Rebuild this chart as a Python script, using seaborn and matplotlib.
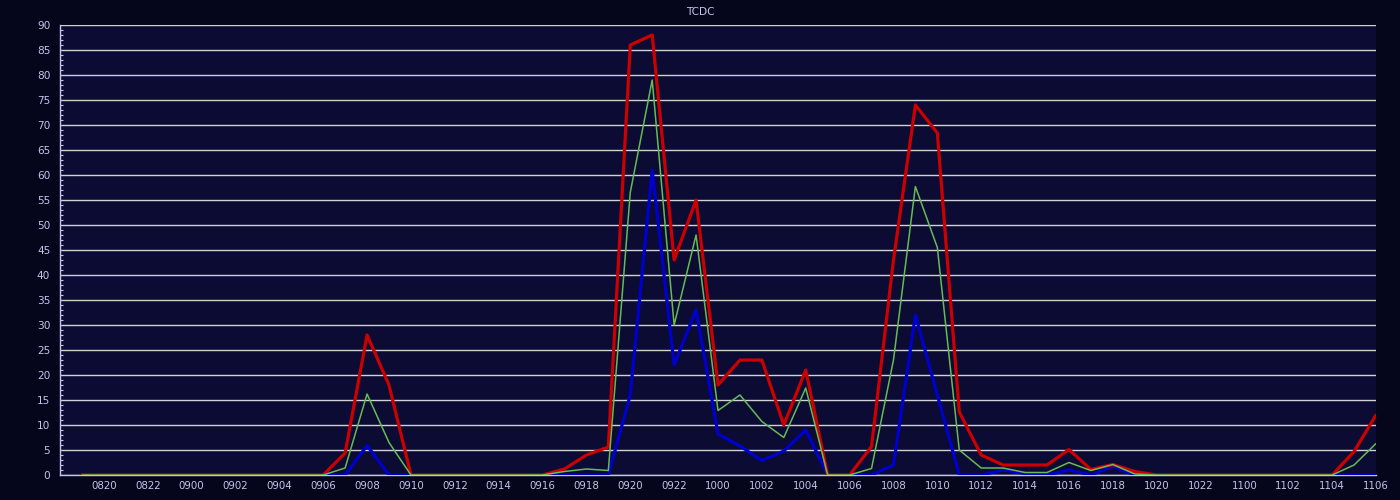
import numpy as np
import seaborn as sns
import matplotlib
matplotlib.use("Agg")
import matplotlib.pyplot as plt
from matplotlib.ticker import MultipleLocator

# hourly steps, DDHH style labels as on the chart
hours = ['0819', '0820', '0821', '0822', '0823',
         '0900', '0901', '0902', '0903', '0904', '0905', '0906', '0907', '0908', '0909', '0910', '0911',
         '0912', '0913', '0914', '0915', '0916', '0917', '0918', '0919', '0920', '0921', '0922', '0923',
         '1000', '1001', '1002', '1003', '1004', '1005', '1006', '1007', '1008', '1009', '1010', '1011',
         '1012', '1013', '1014', '1015', '1016', '1017', '1018', '1019', '1020', '1021', '1022', '1023',
         '1100', '1101', '1102', '1103', '1104', '1105', '1106']

red_vals = [0, 0, 0, 0, 0,
            0, 0, 0, 0, 0, 0, 0, 4.4, 28, 18, 0, 0,
            0, 0, 0, 0, 0, 1.2, 4, 5.6, 86, 88, 43, 55,
            18, 23, 23, 10, 21, 0, 0, 5.7, 43, 74, 68.4, 12.6,
            4, 2, 2, 2, 5.1, 1.1, 2.1, 0.7, 0, 0, 0, 0,
            0, 0, 0, 0, 0, 4.7, 12]

green_vals = [0, 0, 0, 0, 0,
              0, 0, 0, 0, 0, 0, 0, 1.4, 16.2, 6.5, 0, 0,
              0, 0, 0, 0, 0, 0.7, 1.2, 0.9, 56.5, 79, 30, 48,
              12.9, 16, 10.7, 7.5, 17.4, 0, 0, 1.3, 23, 57.7, 45.5, 5,
              1.4, 1.4, 0.5, 0.5, 2.5, 0.9, 2.1, 0.2, 0, 0, 0, 0,
              0, 0, 0, 0, 0, 2, 6.3]

blue_vals = [0, 0, 0, 0, 0,
             0, 0, 0, 0, 0, 0, 0, 0, 5.9, 0, 0, 0,
             0, 0, 0, 0, 0, 0, 0, 0, 16, 61, 22, 33,
             8.2, 5.8, 2.9, 4.8, 9, 0, 0, 0, 2, 32, 16, 0,
             0, 1, 0.3, 0, 1, 0, 1.7, 0, 0, 0, 0, 0,
             0, 0, 0, 0, 0, 0, 0]

outer_bg = '#05061c'
plot_bg = '#0b0b33'
txt_col = '#c4c4ea'
grid_col = '#d2d2d2'

sns.set_style("dark")
plt.rcParams['font.family'] = ['DejaVu Sans']

fig = plt.figure(figsize=(14, 5), dpi=100, facecolor=outer_bg)
ax = fig.add_axes([60 / 1400, 25 / 500, (1376 - 60) / 1400, 450 / 500])
ax.set_facecolor(plot_bg)

pos = np.arange(len(hours))
sns.lineplot(x=pos, y=blue_vals, color='#0000cc', linewidth=2.3, ax=ax, zorder=3)
sns.lineplot(x=pos, y=red_vals, color='#cc0000', linewidth=2.3, ax=ax, zorder=4)
sns.lineplot(x=pos, y=green_vals, color='#66bb55', linewidth=1.1, ax=ax, zorder=5)

ax.set_xlim(-1, len(hours) - 1)
ax.set_ylim(0, 90)

ax.set_xticks(pos[1::2])
ax.set_xticklabels(hours[1::2])
ax.yaxis.set_major_locator(MultipleLocator(5))
ax.yaxis.set_minor_locator(MultipleLocator(1))

ax.grid(False)
ax.yaxis.grid(True, which='major', color=grid_col, linewidth=1.0, zorder=1)
ax.set_axisbelow(True)

ax.tick_params(axis='x', which='major', direction='in', length=4, width=1,
               color=txt_col, labelcolor=txt_col, labelsize=7.4, pad=4)
ax.tick_params(axis='y', which='major', direction='in', length=2.5, width=1,
               color=txt_col, labelcolor=txt_col, labelsize=7.6, pad=7)
ax.tick_params(axis='y', which='minor', direction='in', length=2.5, width=0.8,
               color=txt_col, left=True)

for side in ['top', 'right']:
    ax.spines[side].set_visible(False)
for side in ['left', 'bottom']:
    ax.spines[side].set_visible(True)
    ax.spines[side].set_color(txt_col)
    ax.spines[side].set_linewidth(1.0)

ax.set_xlabel('')
ax.set_ylabel('')
fig.text(0.5, 1 - 12 / 500, 'TCDC', ha='center', va='center', color=txt_col, fontsize=7.6)

fig.savefig('out.png', dpi=100, facecolor=outer_bg)
